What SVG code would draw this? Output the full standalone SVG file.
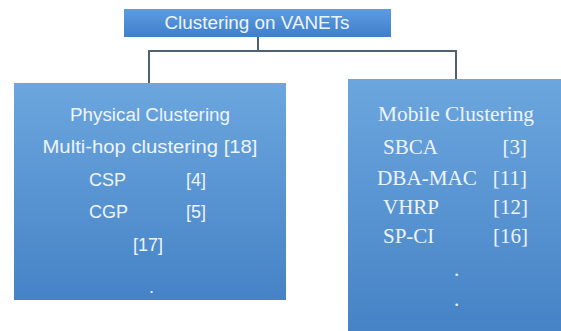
<svg xmlns="http://www.w3.org/2000/svg" width="561" height="331" viewBox="0 0 561 331">
<defs>
<linearGradient id="g" x1="0" y1="0" x2="0" y2="1">
<stop offset="0" stop-color="#6ba6de"/>
<stop offset="1" stop-color="#4683c6"/>
</linearGradient>
<linearGradient id="gt" x1="0" y1="0" x2="0" y2="1">
<stop offset="0" stop-color="#5d9ce0"/>
<stop offset="1" stop-color="#3f7fcb"/>
</linearGradient>
</defs>
<style>
.box{fill:url(#g);}
.s{font-family:"Liberation Sans","Open Sans",sans-serif;fill:#eef4fb;font-size:18px;}
.r{font-family:"Liberation Serif","Times New Roman",serif;fill:#eef4fb;font-size:21px;}
.c{fill:none;stroke:#4d6272;stroke-width:2;}
</style>
<rect width="561" height="331" fill="#ffffff"/>
<g id="connectors">
<path class="c" d="M258,37 V51 H149 V83"/>
<path class="c" d="M258,51 H456 V79"/>
</g>
<g id="root">
<rect x="124" y="9" width="267" height="28" fill="url(#gt)"/>
<text class="s" x="257" y="29" text-anchor="middle" font-size="19" textLength="185" lengthAdjust="spacingAndGlyphs">Clustering on VANETs</text>
</g>
<g id="physical">
<rect class="box" x="14" y="83" width="272" height="217"/>
<text class="s" x="150" y="121" text-anchor="middle" textLength="160" lengthAdjust="spacingAndGlyphs">Physical Clustering</text>
<text class="s" x="150" y="153" text-anchor="middle" textLength="215" lengthAdjust="spacingAndGlyphs">Multi-hop clustering [18]</text>
<text class="s" x="89" y="186">CSP</text>
<text class="s" x="186" y="186">[4]</text>
<text class="s" x="89" y="218">CGP</text>
<text class="s" x="186" y="218">[5]</text>
<text class="s" x="133" y="251">[17]</text>
<text class="s" x="149" y="293">.</text>
</g>
<g id="mobile">
<rect class="box" x="348" y="79" width="213" height="252"/>
<text class="r" x="378" y="121" textLength="156" lengthAdjust="spacingAndGlyphs">Mobile Clustering</text>
<text class="r" x="383" y="154">SBCA</text>
<text class="r" x="527" y="154" text-anchor="end">[3]</text>
<text class="r" x="377" y="185" textLength="100" lengthAdjust="spacingAndGlyphs">DBA-MAC</text>
<text class="r" x="527" y="185" text-anchor="end">[11]</text>
<text class="r" x="383" y="214">VHRP</text>
<text class="r" x="528" y="214" text-anchor="end">[12]</text>
<text class="r" x="383" y="243">SP-CI</text>
<text class="r" x="528" y="243" text-anchor="end">[16]</text>
<text class="r" x="454" y="276">.</text>
<text class="r" x="454" y="306">.</text>
</g>
</svg>
